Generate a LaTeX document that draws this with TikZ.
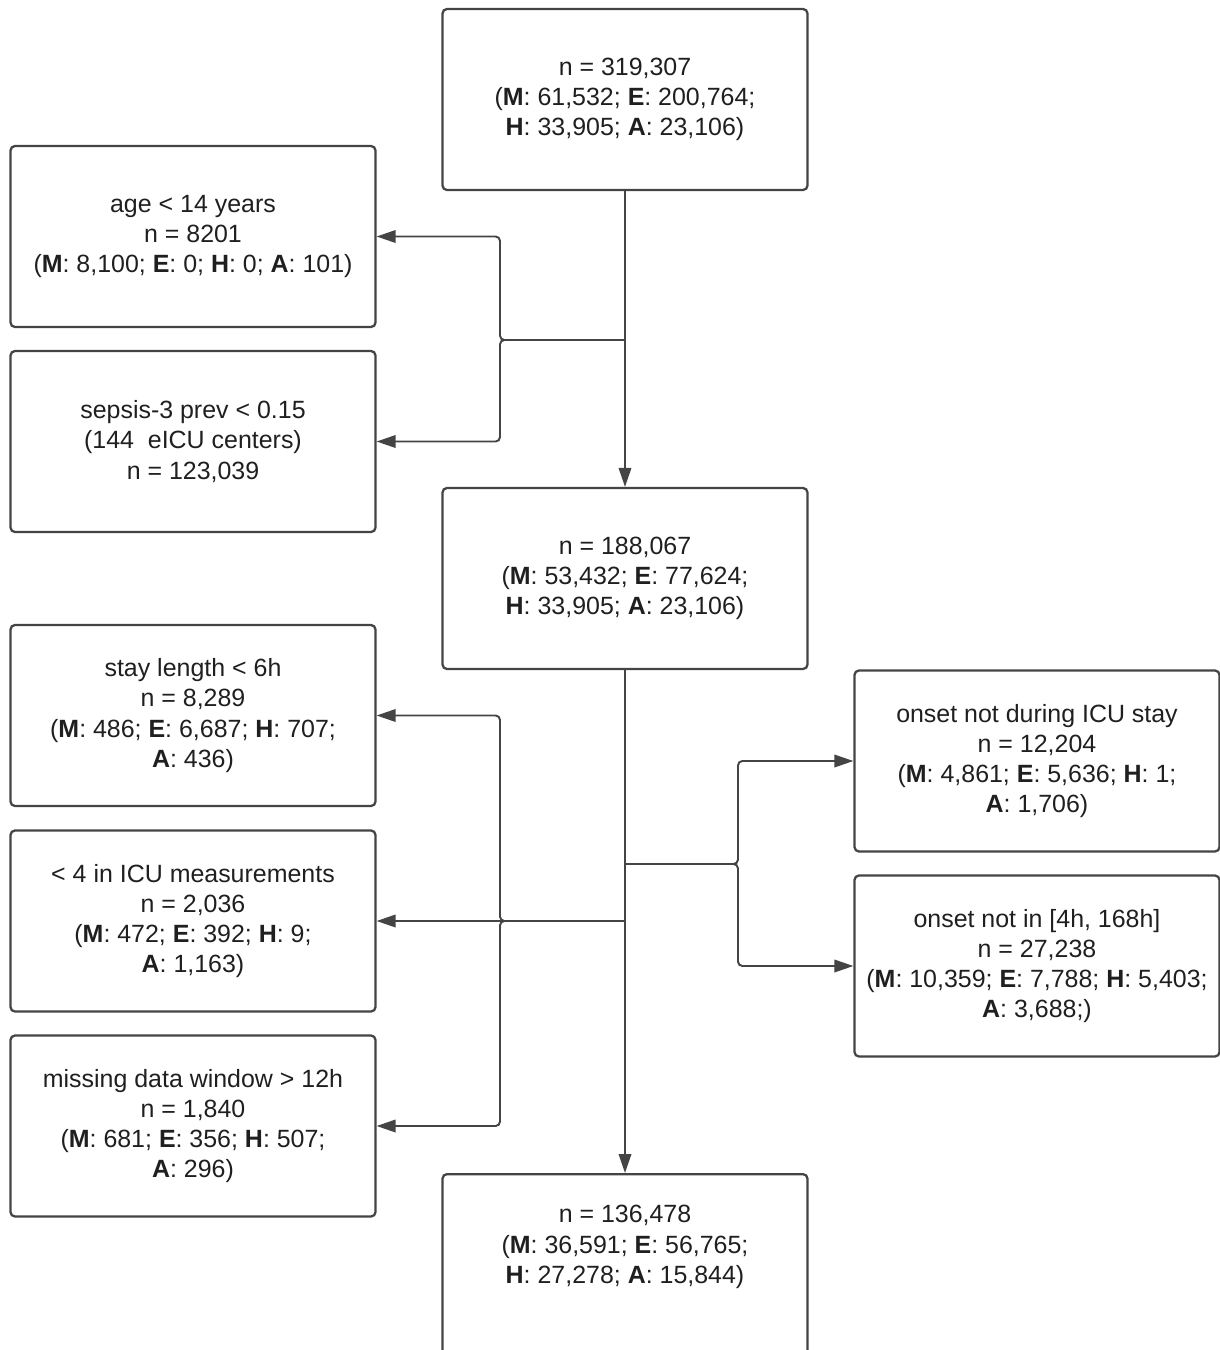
\documentclass[tikz,border=0pt]{standalone}
\usepackage{fontspec}
\setmainfont{Liberation Sans}
\usetikzlibrary{arrows.meta}
\definecolor{ln}{HTML}{444444}
\begin{document}
\begin{tikzpicture}[x=0.02cm,y=-0.02cm,
  box/.style={draw=ln, line width=1.3pt, rounded corners=2.5pt, align=center, inner sep=0pt,
    font=\fontsize{14.2}{17.2}\selectfont, text=black!88},
  wbox/.style={box, minimum width=7.3cm, minimum height=3.62cm},
  txt/.style={align=center, inner sep=0pt, font=\fontsize{14.2}{17.2}\selectfont, text=black!88},
  conn/.style={draw=ln, line width=1.1pt, rounded corners=2.5pt},
  arr/.style={conn, -{Triangle[length=0.38cm,width=0.25cm]}}]
\useasboundingbox (0,0) rectangle (1220,1350);
% boxes
\node[wbox] (top) at (625,99.5) {n = 319,307\\(\textbf{M}: 61,532; \textbf{E}: 200,764;\\\textbf{H}: 33,905; \textbf{A}: 23,106)};
\node[wbox] (l1) at (193,236.5) {age < 14 years\\n = 8201\\(\textbf{M}: 8,100; \textbf{E}: 0; \textbf{H}: 0; \textbf{A}: 101)};
\node[wbox] (l2) at (193,441.5) {sepsis-3 prev < 0.15\\(144\ \ eICU centers)\\n = 123,039};
\node[wbox] (mid) at (625,578.5) {n = 188,067\\(\textbf{M}: 53,432; \textbf{E}: 77,624;\\\textbf{H}: 33,905; \textbf{A}: 23,106)};
\node[wbox] (l3) at (193,715.5) {stay length < 6h\\n = 8,289\\(\textbf{M}: 486; \textbf{E}: 6,687; \textbf{H}: 707;\\\textbf{A}: 436)};
\node[wbox] (l4) at (193,921) {< 4 in ICU measurements\\n = 2,036\\(\textbf{M}: 472; \textbf{E}: 392; \textbf{H}: 9;\\\textbf{A}: 1,163)};
\node[wbox] (l5) at (193,1126) {missing data window > 12h\\n = 1,840\\(\textbf{M}: 681; \textbf{E}: 356; \textbf{H}: 507;\\\textbf{A}: 296)};
\node[wbox] (r1) at (1037,761) {onset not during ICU stay\\n = 12,204\\(\textbf{M}: 4,861; \textbf{E}: 5,636; \textbf{H}: 1;\\\textbf{A}: 1,706)};
\node[wbox] (r2) at (1037,966) {onset not in [4h, 168h]\\n = 27,238\\(\textbf{M}: 10,359; \textbf{E}: 7,788; \textbf{H}: 5,403;\\\textbf{A}: 3,688;)};
\node[box, minimum width=7.3cm, minimum height=4.6cm, anchor=north] (bot) at (625,1173) {};
\node[txt] (bottxt) at (625,1247) {n = 136,478\\(\textbf{M}: 36,591; \textbf{E}: 56,765;\\\textbf{H}: 27,278; \textbf{A}: 15,844)};
% junction helpers
\coordinate (y1) at (0,340);
\coordinate (y3) at (0,864);
\coordinate (j1) at (top.south |- y1);
\coordinate (b1) at (500,340);
\coordinate (j2) at (mid.south |- l4.east);
\coordinate (b2x) at (500,0);
\coordinate (b2) at (b2x |- l4.east);
\coordinate (j3) at (mid.south |- y3);
\coordinate (b3) at (738,864);
% connectors
\draw[arr] (top.south) -- (mid.north);
\draw[arr] (j1) -- (b1) |- (l1.east);
\draw[arr] (j1) -- (b1) |- (l2.east);
\draw[arr] (mid.south) -- (bot.north);
\draw[arr] (j2) -- (b2) |- (l3.east);
\draw[arr] (j2) -- (l4.east);
\draw[arr] (j2) -- (b2) |- (l5.east);
\draw[arr] (j3) -- (b3) |- (r1.west);
\draw[arr] (j3) -- (b3) |- (r2.west);
\end{tikzpicture}
\end{document}
